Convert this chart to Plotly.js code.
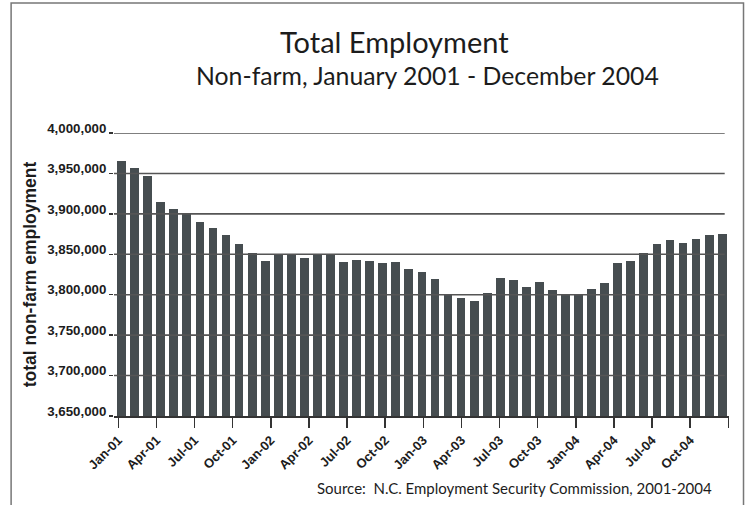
<!DOCTYPE html>
<html><head><meta charset="utf-8">
<script src="https://cdn.plot.ly/plotly-3.0.1.min.js"></script>
<style>html,body{margin:0;padding:0;background:#fff}#chart{width:748px;height:505px}</style>
</head><body><div id="chart"></div>
<script>
// ---- data ----
const barMonths = [
  'Jan-01','Feb-01','Mar-01','Apr-01','May-01','Jun-01','Jul-01','Aug-01','Sep-01','Oct-01','Nov-01','Dec-01',
  'Jan-02','Feb-02','Mar-02','Apr-02','May-02','Jun-02','Jul-02','Aug-02','Sep-02','Oct-02','Nov-02','Dec-02',
  'Jan-03','Feb-03','Mar-03','Apr-03','May-03','Jun-03','Jul-03','Aug-03','Sep-03','Oct-03','Nov-03','Dec-03',
  'Jan-04','Feb-04','Mar-04','Apr-04','May-04','Jun-04','Jul-04','Aug-04','Sep-04','Oct-04','Nov-04'
];
const employment = [
  3965800, 3956800, 3946600, 3914200, 3906500, 3900400, 3890200, 3882900, 3874400, 3862200, 3851200, 3841500,
  3850000, 3849800, 3845100, 3849900, 3850000, 3840200, 3842700, 3841500, 3839000, 3840200, 3831700, 3828000,
  3819500, 3799500, 3796300, 3792700, 3802400, 3820700, 3818300, 3809800, 3815900, 3806100, 3801200, 3799800,
  3807300, 3814600, 3839000, 3841500, 3851200, 3862200, 3867100, 3863400, 3869500, 3874400, 3875600
];
const tickLabels = ['Jan-01','Apr-01','Jul-01','Oct-01','Jan-02','Apr-02','Jul-02','Oct-02',
  'Jan-03','Apr-03','Jul-03','Oct-03','Jan-04','Apr-04','Jul-04','Oct-04',''];
const yTickValues = [3650000, 3700000, 3750000, 3800000, 3850000, 3900000, 3950000, 4000000];

const titleLine1 = 'Total Employment';
const titleLine2 = 'Non-farm, January 2001 - December 2004';
const yTitle = 'total non-farm employment';
const sourceText = 'Source:&nbsp; N.C. Employment Security Commission, 2001-2004';

// ---- styling ----
const SANS = '"Liberation Sans", Arial, sans-serif';
const HUM = 'Lato, "Open Sans", sans-serif';
const INK = '#1c1c1c';
const TICK0 = -0.25, TICKSTEP = 2.92;

const xIdx = barMonths.map((_, i) => i);
const tickVals = tickLabels.map((_, k) => TICK0 + k * TICKSTEP);

const trace = {
  type: 'bar', x: xIdx, y: employment, width: 0.67, textposition: 'none',
  marker: {color: '#464d50', line: {width: 0}},
  customdata: barMonths, hovertemplate: '%{customdata}: %{y:,}<extra></extra>'
};

const shapes = yTickValues.slice(1).map(v => ({
  type: 'line', xref: 'paper', yref: 'y', x0: 0, x1: 0.993, y0: v, y1: v,
  line: {color: '#555', width: 1.6}, layer: 'above'
}));
shapes.push({
  type: 'rect', xref: 'paper', yref: 'paper', x0: -0.1673, x1: 1.0236, y0: -0.34, y1: 1.459,
  line: {color: '#777', width: 1.5}, fillcolor: 'rgba(0,0,0,0)', layer: 'above'
});

const layout = {
  width: 748, height: 505,
  margin: {l: 114, r: 19, t: 133, b: 89, pad: 0},
  paper_bgcolor: '#fff', plot_bgcolor: '#fff',
  showlegend: false, bargap: 0,
  xaxis: {
    range: [-0.58, 46.52], tickmode: 'array', tickvals: tickVals, ticktext: tickLabels,
    tickangle: -45, ticks: 'outside', ticklen: 10, tickwidth: 1.5, tickcolor: '#333',
    showline: true, linecolor: '#333', linewidth: 1.5, showgrid: false, zeroline: false,
    tickfont: {family: SANS, size: 13, weight: 'bold', color: INK}
  },
  yaxis: {
    range: [3650000, 4000000], tickmode: 'array', tickvals: yTickValues, tickformat: ',d',
    ticks: 'outside', ticklen: 4, tickwidth: 1.5, tickcolor: '#333', ticklabelshift: -5,
    showline: false, showgrid: false, zeroline: false,
    tickfont: {family: SANS, size: 13.3, weight: 'bold', color: INK},
    title: {text: yTitle, font: {family: SANS, size: 17.5, weight: 'bold', color: INK}, standoff: 6}
  },
  shapes: shapes,
  annotations: [
    {text: titleLine1, xref: 'paper', yref: 'paper', x: 0.4565, y: 1.325, xanchor: 'center', yanchor: 'middle',
     showarrow: false, font: {family: HUM, size: 29, color: INK}},
    {text: titleLine2, xref: 'paper', yref: 'paper', x: 0.510, y: 1.203, xanchor: 'center', yanchor: 'middle',
     showarrow: false, font: {family: HUM, size: 24.8, color: INK}},
    {text: sourceText, xref: 'paper', yref: 'paper', x: 0.651, y: -0.254, xanchor: 'center', yanchor: 'middle',
     showarrow: false, font: {family: HUM, size: 15, color: INK}}
  ]
};

Plotly.newPlot('chart', [trace], layout, {staticPlot: true, displayModeBar: false});
</script>
</body></html>
